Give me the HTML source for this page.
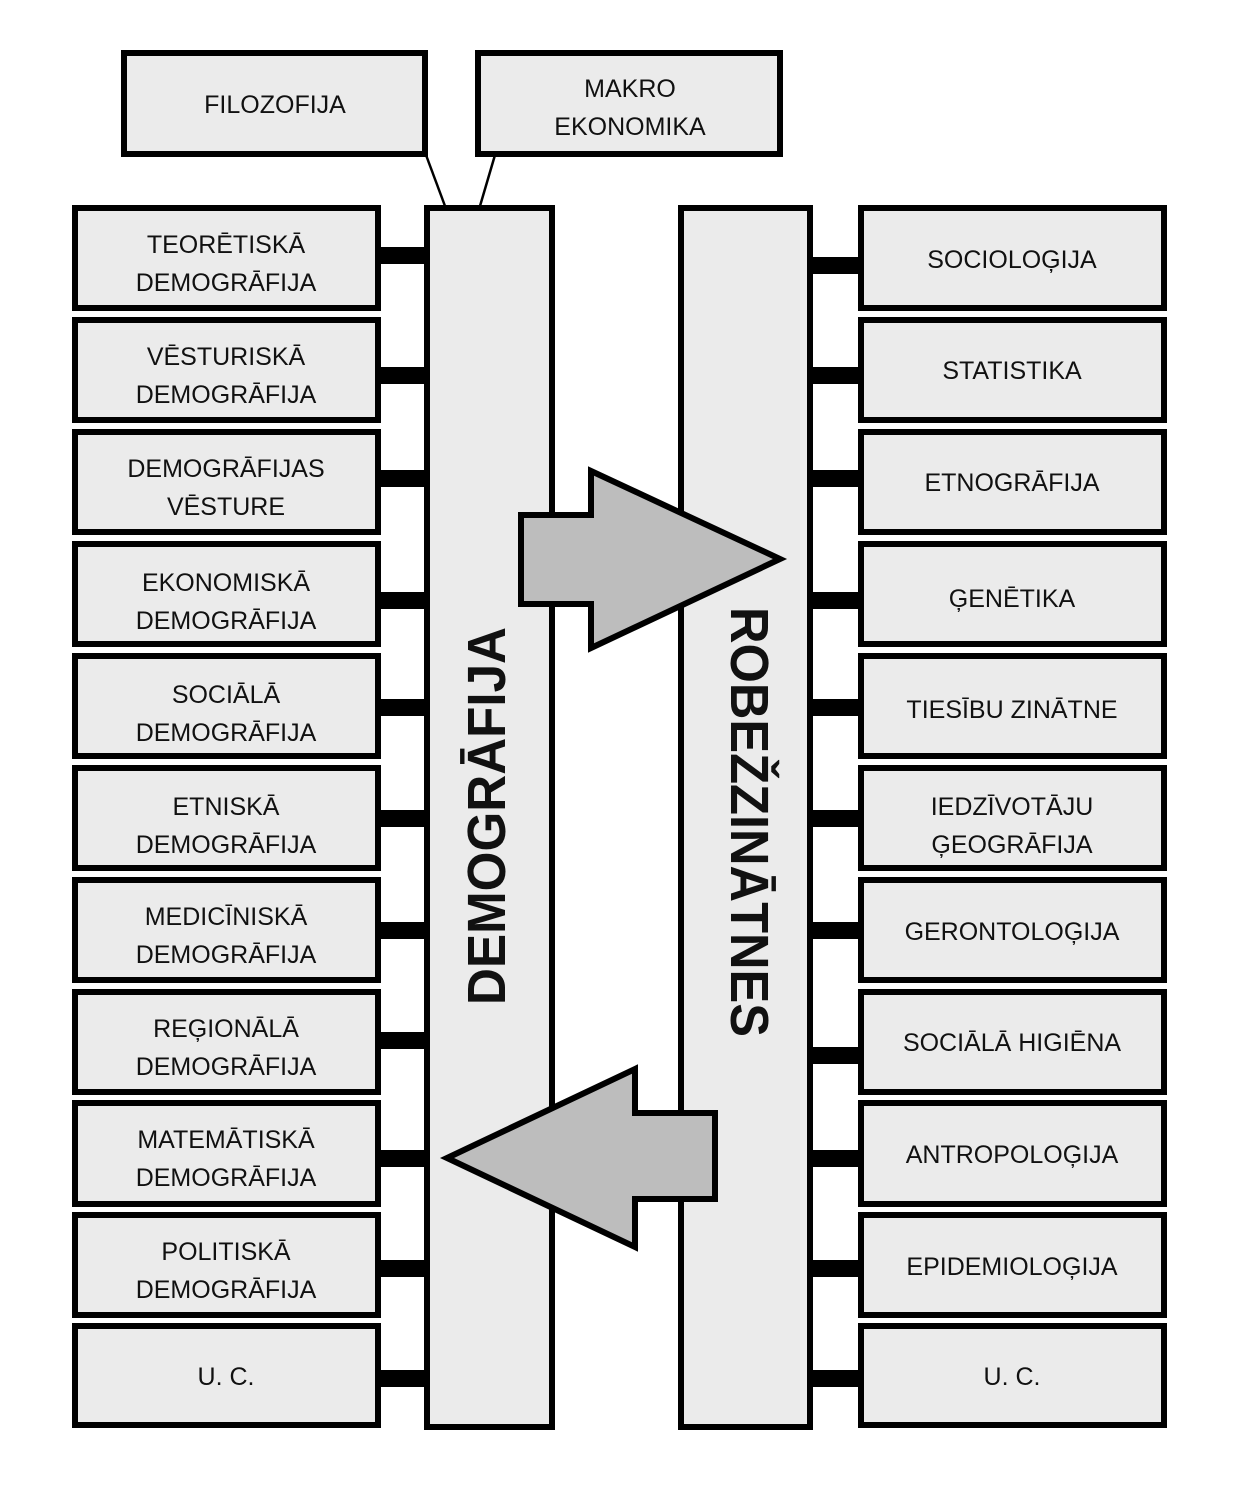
<!DOCTYPE html>
<html><head><meta charset="utf-8"><style>
html,body{margin:0;padding:0;background:#fff;}
svg{display:block;}
text{font-family:"Liberation Sans",sans-serif;fill:#111;}
</style></head><body>
<svg width="1234" height="1500" viewBox="0 0 1234 1500" xmlns="http://www.w3.org/2000/svg">
<g stroke="#000" stroke-width="6" fill="#ebebeb">
<rect x="124" y="53" width="301" height="101"/>
<rect x="478" y="53" width="302" height="101"/>
<rect x="427" y="208" width="125" height="1219"/>
<rect x="681" y="208" width="129" height="1219"/>
</g>
<g stroke="#000" stroke-width="2.5">
<line x1="426" y1="155" x2="445" y2="206"/>
<line x1="495" y1="155" x2="480" y2="206"/>
</g>
<g fill="#000">
<rect x="378" y="247" width="48" height="17"/>
<rect x="378" y="367" width="48" height="17"/>
<rect x="378" y="470" width="48" height="17"/>
<rect x="378" y="592" width="48" height="17"/>
<rect x="378" y="699" width="48" height="17"/>
<rect x="378" y="810" width="48" height="17"/>
<rect x="378" y="922" width="48" height="17"/>
<rect x="378" y="1032" width="48" height="17"/>
<rect x="378" y="1150" width="48" height="17"/>
<rect x="378" y="1260" width="48" height="17"/>
<rect x="378" y="1370" width="48" height="17"/>
<rect x="810" y="257" width="50" height="17"/>
<rect x="810" y="367" width="50" height="17"/>
<rect x="810" y="470" width="50" height="17"/>
<rect x="810" y="592" width="50" height="17"/>
<rect x="810" y="699" width="50" height="17"/>
<rect x="810" y="810" width="50" height="17"/>
<rect x="810" y="922" width="50" height="17"/>
<rect x="810" y="1047" width="50" height="17"/>
<rect x="810" y="1150" width="50" height="17"/>
<rect x="810" y="1260" width="50" height="17"/>
<rect x="810" y="1370" width="50" height="17"/>
</g>
<g stroke="#000" stroke-width="6" fill="#ebebeb">
<rect x="75" y="208" width="303" height="100"/>
<rect x="75" y="320" width="303" height="100"/>
<rect x="75" y="432" width="303" height="100"/>
<rect x="75" y="544" width="303" height="100"/>
<rect x="75" y="656" width="303" height="100"/>
<rect x="75" y="768" width="303" height="100"/>
<rect x="75" y="880" width="303" height="100"/>
<rect x="75" y="992" width="303" height="100"/>
<rect x="75" y="1103" width="303" height="101"/>
<rect x="75" y="1215" width="303" height="100"/>
<rect x="75" y="1326" width="303" height="99"/>
<rect x="861" y="208" width="303" height="100"/>
<rect x="861" y="320" width="303" height="100"/>
<rect x="861" y="432" width="303" height="100"/>
<rect x="861" y="544" width="303" height="100"/>
<rect x="861" y="656" width="303" height="100"/>
<rect x="861" y="768" width="303" height="100"/>
<rect x="861" y="880" width="303" height="100"/>
<rect x="861" y="992" width="303" height="100"/>
<rect x="861" y="1103" width="303" height="101"/>
<rect x="861" y="1215" width="303" height="100"/>
<rect x="861" y="1326" width="303" height="99"/>
</g>
<g stroke="#000" stroke-width="6" fill="#bdbdbd" stroke-linejoin="miter">
<polygon points="521,515 591,515 591,471 780,559 591,648 591,604 521,604"/>
<polygon points="715,1113 635,1113 635,1069 447,1158 635,1247 635,1199 715,1199"/>
</g>
<g font-size="25" text-anchor="middle">
<text x="275" y="113">FILOZOFIJA</text>
<text x="630" y="97">MAKRO</text>
<text x="630" y="135">EKONOMIKA</text>
<text x="226" y="253">TEORĒTISKĀ</text><text x="226" y="291">DEMOGRĀFIJA</text>
<text x="226" y="365">VĒSTURISKĀ</text><text x="226" y="403">DEMOGRĀFIJA</text>
<text x="226" y="477">DEMOGRĀFIJAS</text><text x="226" y="515">VĒSTURE</text>
<text x="226" y="591">EKONOMISKĀ</text><text x="226" y="629">DEMOGRĀFIJA</text>
<text x="226" y="703">SOCIĀLĀ</text><text x="226" y="741">DEMOGRĀFIJA</text>
<text x="226" y="815">ETNISKĀ</text><text x="226" y="853">DEMOGRĀFIJA</text>
<text x="226" y="925">MEDICĪNISKĀ</text><text x="226" y="963">DEMOGRĀFIJA</text>
<text x="226" y="1037">REĢIONĀLĀ</text><text x="226" y="1075">DEMOGRĀFIJA</text>
<text x="226" y="1148">MATEMĀTISKĀ</text><text x="226" y="1186">DEMOGRĀFIJA</text>
<text x="226" y="1260">POLITISKĀ</text><text x="226" y="1298">DEMOGRĀFIJA</text>
<text x="226" y="1385">U. C.</text>
<text x="1012" y="268">SOCIOLOĢIJA</text>
<text x="1012" y="379">STATISTIKA</text>
<text x="1012" y="491">ETNOGRĀFIJA</text>
<text x="1012" y="607">ĢENĒTIKA</text>
<text x="1012" y="718">TIESĪBU ZINĀTNE</text>
<text x="1012" y="815">IEDZĪVOTĀJU</text><text x="1012" y="853">ĢEOGRĀFIJA</text>
<text x="1012" y="940">GERONTOLOĢIJA</text>
<text x="1012" y="1051">SOCIĀLĀ HIGIĒNA</text>
<text x="1012" y="1163">ANTROPOLOĢIJA</text>
<text x="1012" y="1275">EPIDEMIOLOĢIJA</text>
<text x="1012" y="1385">U. C.</text>
</g>
<text transform="translate(505,816) rotate(-90)" font-size="54" font-weight="bold" text-anchor="middle" textLength="378" lengthAdjust="spacingAndGlyphs">DEMOGRĀFIJA</text>
<text transform="translate(731,822) rotate(90)" font-size="54" font-weight="bold" text-anchor="middle" textLength="430" lengthAdjust="spacingAndGlyphs">ROBEŽZINĀTNES</text>
</svg>
</body></html>
